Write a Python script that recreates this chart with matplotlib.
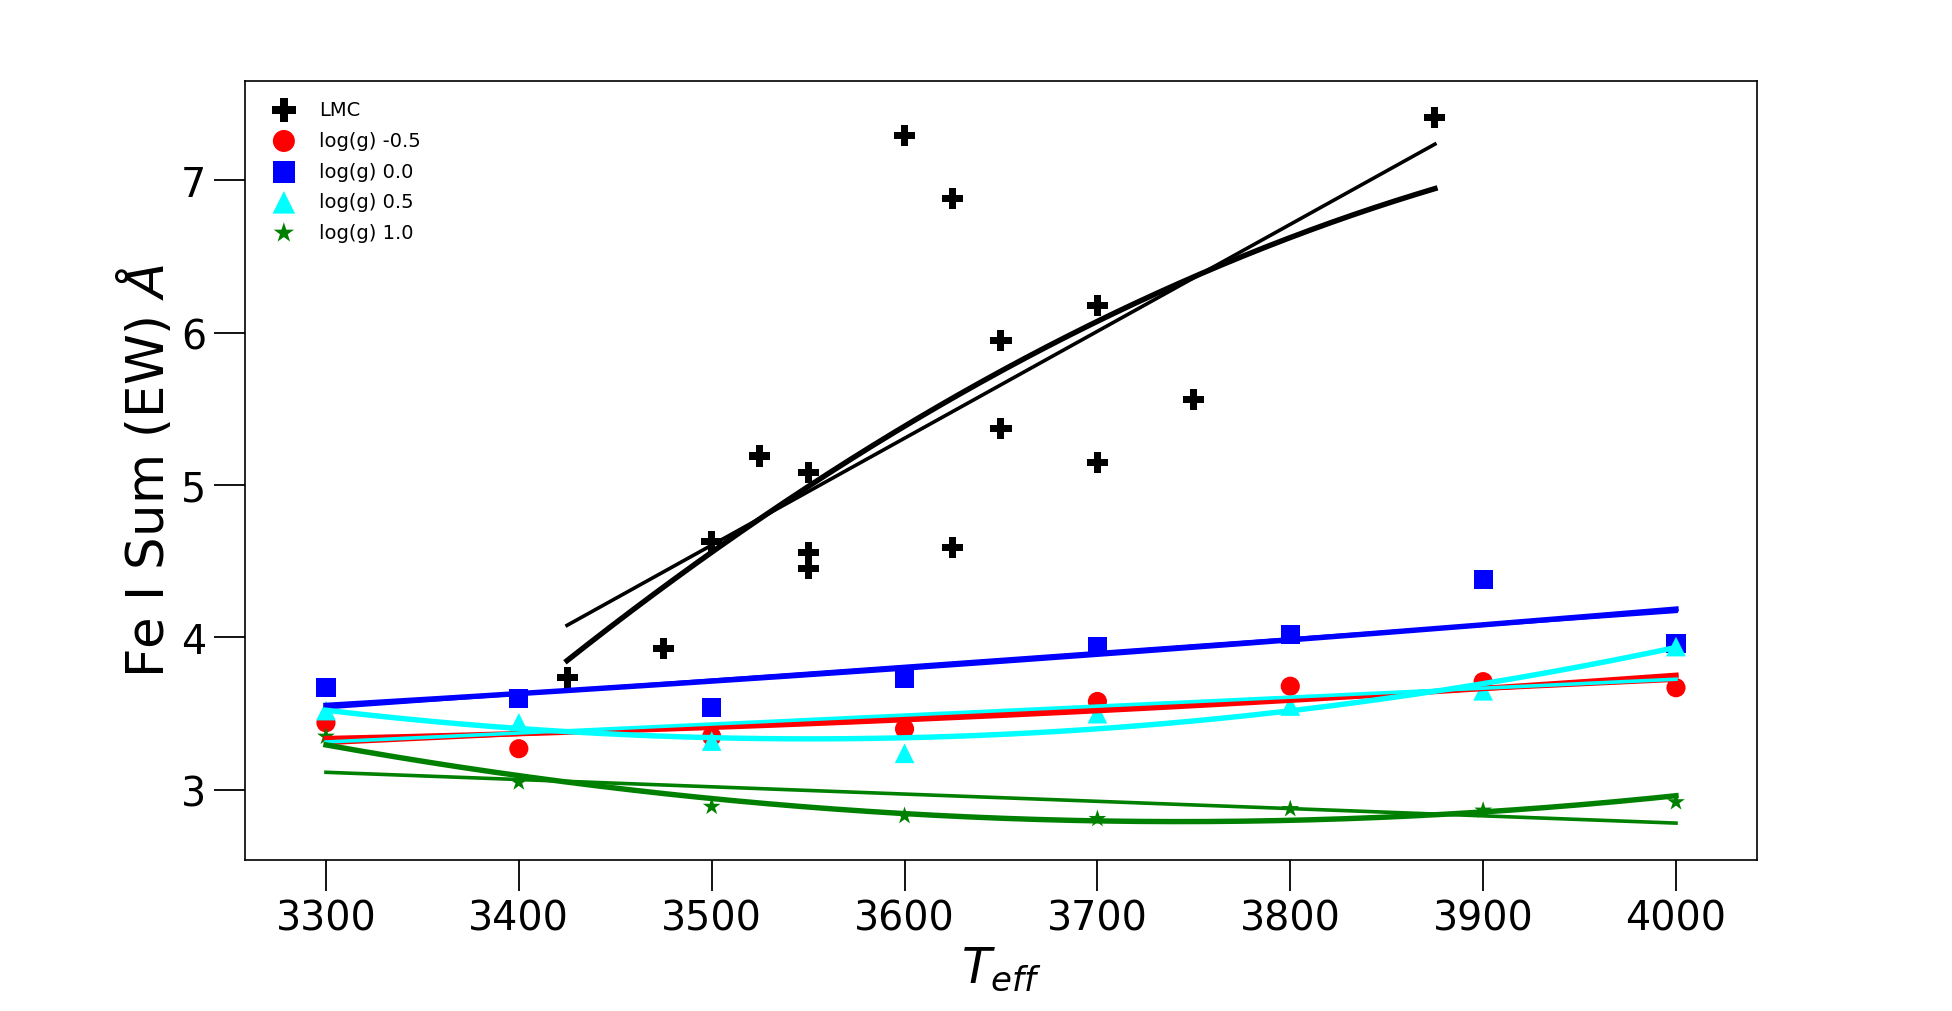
import numpy as np
import matplotlib
matplotlib.use("Agg")
import matplotlib.pyplot as plt

# LMC stars
lmc_teff = [3425, 3475, 3500, 3525, 3550, 3550, 3550, 3600, 3625, 3625,
            3650, 3650, 3700, 3700, 3750, 3875]
lmc_ew = [3.74, 3.93, 4.63, 5.19, 5.08, 4.56, 4.45, 7.29, 6.88, 4.59,
          5.95, 5.37, 6.18, 5.15, 5.56, 7.41]

# model grid
model_teff = [3300, 3400, 3500, 3600, 3700, 3800, 3900, 4000]
ew_logg_m05 = [3.44, 3.27, 3.35, 3.40, 3.58, 3.68, 3.71, 3.67]
ew_logg_00 = [3.67, 3.60, 3.54, 3.73, 3.94, 4.02, 4.38, 3.96]
ew_logg_05 = [3.52, 3.44, 3.32, 3.24, 3.50, 3.55, 3.65, 3.94]
ew_logg_10 = [3.35, 3.05, 2.89, 2.83, 2.81, 2.875, 2.865, 2.92]

series = [
    (lmc_teff, lmc_ew, "black", "P", "LMC", 230),
    (model_teff, ew_logg_m05, "red", "o", "log(g) -0.5", 190),
    (model_teff, ew_logg_00, "blue", "s", "log(g) 0.0", 190),
    (model_teff, ew_logg_05, "cyan", "^", "log(g) 0.5", 200),
    (model_teff, ew_logg_10, "green", "*", "log(g) 1.0", 180),
]

fig = plt.figure(figsize=(19.52, 10.12), dpi=100)
ax = fig.add_axes([0.1255, 0.1492, 0.7746, 0.7698])

for x, y, col, mk, lab, s in series:
    x = np.array(x, dtype=float)
    y = np.array(y, dtype=float)
    ax.scatter(x, y, c=col, marker=mk, s=s, label=lab, edgecolors="none", zorder=2)
    # linear and quadratic fits
    xs = np.linspace(x.min(), x.max(), 200)
    p1 = np.polyfit(x, y, 1)
    p2 = np.polyfit(x, y, 2)
    ax.plot(xs, np.polyval(p1, xs), color=col, lw=2.6, zorder=3)
    ax.plot(xs, np.polyval(p2, xs), color=col, lw=3.9, zorder=3)

ax.set_xlim(3258, 4042)
ax.set_ylim(2.54, 7.65)
ax.set_xticks([3300, 3400, 3500, 3600, 3700, 3800, 3900, 4000])
ax.set_yticks([3, 4, 5, 6, 7])
ax.tick_params(labelsize=28.5, length=22, width=1.3, direction="out", pad=6)
for sp in ax.spines.values():
    sp.set_linewidth(1.2)

ax.set_xlabel(r"$T_{eff}$", fontsize=35)
ax.set_ylabel(r"Fe I Sum (EW) $\AA$", fontsize=37)

ax.legend(loc="upper left", frameon=False, fontsize=14, scatterpoints=1,
          markerscale=1.15, handletextpad=0.8, labelspacing=0.6,
          borderaxespad=0.6)

fig.savefig("out.png", dpi=100)
